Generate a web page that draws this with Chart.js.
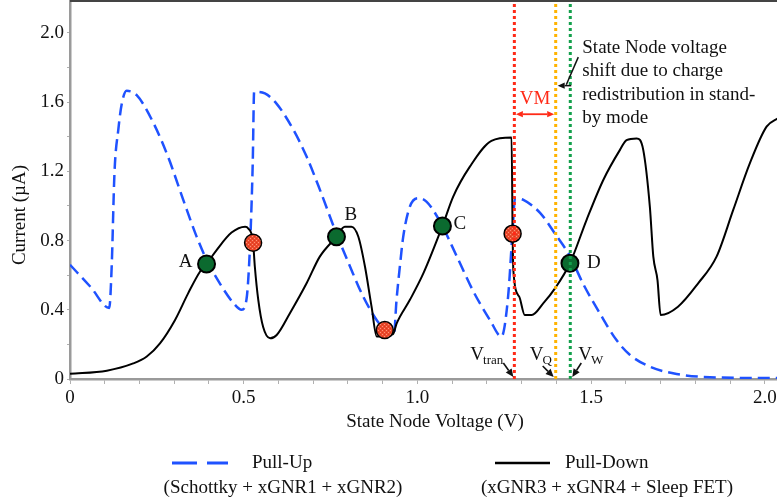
<!DOCTYPE html>
<html><head><meta charset="utf-8">
<script src="https://cdn.jsdelivr.net/npm/chart.js@4/dist/chart.umd.min.js"></script>
<style>html,body{margin:0;padding:0;background:#fff;}#wrap{width:777px;height:504px;}</style>
</head><body><div id="wrap"><canvas id="c" width="777" height="504"></canvas></div>
<script>
// ---- data ----
const pullUpV = [0.0,0.06,0.113,0.12,0.128,0.139,0.149,0.163,0.192,0.24,0.283,0.326,0.365,0.393,0.432,0.47,0.494,0.508,0.518,0.526,0.53,0.561,0.595,0.643,0.681,0.72,0.763,0.806,0.844,0.883,0.91,0.932,0.94,0.95,0.959,0.978,1.002,1.026,1.065,1.113,1.16,1.209,1.242,1.261,1.274,1.281,1.305,1.353,1.396,1.439,1.477,1.525,1.573,1.612,1.669,1.746,1.842,2.04];
const pullUpI = [0.66,0.53,0.41,0.65,1.19,1.44,1.59,1.665,1.64,1.48,1.28,1.035,0.82,0.69,0.55,0.44,0.40,0.46,0.765,1.25,1.66,1.65,1.59,1.44,1.285,1.09,0.86,0.65,0.476,0.34,0.28,0.25,0.46,0.66,0.82,0.995,1.045,1.025,0.91,0.71,0.51,0.34,0.245,0.476,0.86,1.045,1.035,0.96,0.84,0.71,0.55,0.38,0.225,0.139,0.071,0.029,0.01,0.005];
const pullDownV = [0.0,0.106,0.182,0.221,0.259,0.302,0.34,0.374,0.393,0.422,0.465,0.504,0.513,0.527,0.532,0.542,0.556,0.576,0.595,0.633,0.681,0.719,0.767,0.791,0.81,0.83,0.849,0.868,0.883,0.93,0.94,0.978,1.017,1.072,1.103,1.151,1.213,1.271,1.274,1.276,1.293,1.309,1.329,1.362,1.396,1.439,1.487,1.535,1.583,1.602,1.631,1.65,1.669,1.679,1.691,1.70,1.75,1.808,1.861,1.909,1.957,2.005,2.04];
const pullDownI = [0.03,0.048,0.09,0.13,0.206,0.34,0.495,0.62,0.665,0.745,0.846,0.88,0.87,0.79,0.65,0.456,0.30,0.235,0.254,0.38,0.553,0.707,0.822,0.88,0.88,0.822,0.65,0.418,0.245,0.26,0.32,0.456,0.61,0.884,1.054,1.227,1.376,1.395,0.84,0.63,0.476,0.37,0.37,0.437,0.524,0.669,0.92,1.15,1.324,1.38,1.39,1.324,0.996,0.707,0.572,0.37,0.418,0.553,0.707,0.977,1.247,1.458,1.51];
const stableV = [0.393,0.767,1.072,1.439];
const stableI = [0.665,0.822,0.884,0.669];
const stableNames = ['A','B','C','D'];
const unstableV = [0.527,0.906,1.274];
const unstableI = [0.787,0.283,0.84];
const vTran = 1.279, vQ = 1.398, vW = 1.440;
const xMinorTicks = [0,0.1,0.2,0.3,0.4,0.5,0.6,0.7,0.8,0.9,1.0,1.1,1.2,1.3,1.4,1.5,1.6,1.7,1.8,1.9,2.0];
const xMajorTicks = [0,0.5,1.0,1.5,2.0];
const xTickLabels = ['0','0.5','1.0','1.5','2.0'];
const yMinorTicks = [0,0.2,0.4,0.6,0.8,1.0,1.2,1.4,1.6,1.8,2.0];
const yMajorTicks = [0,0.4,0.8,1.2,1.6,2.0];
const yTickLabels = ['0','0.4','0.8','1.2','1.6','2.0'];
const X_MAX = 2.035, Y_MAX = 2.19;
const seriesNames = ['Pull-Up','Pull-Down'];
const seriesSubs = ['(Schottky + xGNR1 + xGNR2)','(xGNR3 + xGNR4 + Sleep FET)'];
const xTitle = 'State Node Voltage (V)';
const yTitle = 'Current (\u00b5A)';
const noteLines = ['State Node voltage','shift due to charge','redistribution in stand-','by mode'];

// ---- styles ----
const SERIF = '"Liberation Serif","DejaVu Serif",serif';
const BLUE = '#1f52ff';
const canvas = document.getElementById('c');
const ctx0 = canvas.getContext('2d');
function hatch(){
  const c=document.createElement('canvas'); c.width=c.height=4;
  const g=c.getContext('2d');
  g.fillStyle='#ec4a2c'; g.fillRect(0,0,4,4);
  g.fillStyle='#ff9278'; g.fillRect(0,0,1,1); g.fillRect(2,2,1,1);
  g.fillStyle='#d63a20'; g.fillRect(2,0,1,1); g.fillRect(0,2,1,1);
  return ctx0.createPattern(c,'repeat');
}
const pts = (xs,ys)=>xs.map((v,i)=>({x:v,y:ys[i]}));
const vline = v=>[{x:v,y:0},{x:v,y:Y_MAX}];
function lab(v,majors,labels){ for(let i=0;i<majors.length;i++){ if(Math.abs(v-majors[i])<1e-6) return labels[i]; } return ''; }
function zeroPad(s){
  s.paddingTop=0; s.paddingBottom=0; s.paddingLeft=0; s.paddingRight=0;
}

function arrow(ctx,x1,y1,x2,y2,color,head,w){
  ctx.save(); ctx.strokeStyle=color; ctx.fillStyle=color; ctx.lineWidth=w||1.5;
  const a=Math.atan2(y2-y1,x2-x1);
  const bx=x2-head*Math.cos(a), by=y2-head*Math.sin(a);
  ctx.beginPath(); ctx.moveTo(x1,y1); ctx.lineTo(bx,by); ctx.stroke();
  ctx.beginPath(); ctx.moveTo(x2,y2);
  ctx.lineTo(bx+head*0.45*Math.sin(a), by-head*0.45*Math.cos(a));
  ctx.lineTo(bx-head*0.45*Math.sin(a), by+head*0.45*Math.cos(a));
  ctx.closePath(); ctx.fill(); ctx.restore();
}
function vlab(ctx,x,y,main,sub){
  ctx.font='19px '+SERIF; ctx.textAlign='left'; ctx.textBaseline='alphabetic';
  ctx.fillText(main,x,y);
  const w=ctx.measureText(main).width;
  ctx.font='13px '+SERIF; ctx.fillText(sub,x+w-1,y+4);
}

const deco = {
  id:'deco',
  afterDatasetsDraw(chart){
    const ctx=chart.ctx, xs=chart.scales.x, ys=chart.scales.y;
    const X=v=>xs.getPixelForValue(v), Y=v=>ys.getPixelForValue(v);
    ctx.save();
    ctx.fillStyle='#111'; ctx.font='19px '+SERIF; ctx.textBaseline='middle';
    const offs=[[-14,-2,'right'],[8,-22,'left'],[11,-2,'left'],[17,0,'left']];
    stableNames.forEach((n,i)=>{ ctx.textAlign=offs[i][2]; ctx.fillText(n,X(stableV[i])+offs[i][0],Y(stableI[i])+offs[i][1]); });
    const xt=X(vTran), xq=X(vQ), xw=X(vW);
    ctx.fillStyle='#ff2a17'; ctx.textAlign='center'; ctx.font='19px '+SERIF;
    ctx.fillText('VM',(xt+xq)/2,Y(1.615));
    arrow(ctx,(xt+xq)/2,Y(1.53),xt+1.5,Y(1.53),'#ff2a17',7,1.8);
    arrow(ctx,(xt+xq)/2,Y(1.53),xq-1.5,Y(1.53),'#ff2a17',7,1.8);
    ctx.fillStyle='#111'; ctx.textAlign='left'; ctx.font='19px '+SERIF;
    noteLines.forEach((t,i)=>ctx.fillText(t,xw+12,Y(1.915)+i*23.5));
    ctx.strokeStyle='#111'; ctx.lineWidth=1.5;
    ctx.beginPath(); ctx.moveTo(xw+8,Y(1.86)); ctx.lineTo(xw-4,Y(1.70)); ctx.stroke();
    arrow(ctx,xw+1,Y(1.695),xq+2,Y(1.695),'#111',7,1.5);
    ctx.fillStyle='#111';
    const yb=Y(0)-19;
    vlab(ctx,xt-44,yb,'V','tran');
    vlab(ctx,xq-26,yb,'V','Q');
    vlab(ctx,xw+8,yb,'V','W');
    arrow(ctx,xt-11,Y(0)-16,xt-1,Y(0)-2,'#111',8,1.6);
    arrow(ctx,xq-13,Y(0)-13,xq-2,Y(0)-2,'#111',8,1.6);
    arrow(ctx,xw+11,Y(0)-16,xw+2,Y(0)-2,'#111',8,1.6);
    ctx.restore();
  },
  afterDraw(chart){
    const ctx=chart.ctx, ca=chart.chartArea;
    ctx.save();
    ctx.fillStyle='#444'; ctx.fillRect(ca.left,0,ca.right-ca.left,2);
    ctx.fillStyle='#111'; ctx.font='19px '+SERIF; ctx.textBaseline='middle'; ctx.textAlign='center';
    ctx.fillText(xTitle,435,422);
    ctx.save(); ctx.translate(20,215); ctx.rotate(-Math.PI/2); ctx.fillText(yTitle,0,0); ctx.restore();
    ctx.strokeStyle=BLUE; ctx.lineWidth=3;
    ctx.beginPath(); ctx.moveTo(172,463); ctx.lineTo(197,463); ctx.moveTo(207,463); ctx.lineTo(228,463); ctx.stroke();
    ctx.strokeStyle='#000'; ctx.lineWidth=2.5;
    ctx.beginPath(); ctx.moveTo(495,463); ctx.lineTo(550,463); ctx.stroke();
    ctx.textAlign='left';
    ctx.fillText(seriesNames[0],252,463);
    ctx.fillText(seriesNames[1],565,463);
    ctx.textAlign='center';
    ctx.fillText(seriesSubs[0],283,488);
    ctx.fillText(seriesSubs[1],607,488);
    ctx.restore();
  }
};

new Chart(canvas,{
  type:'line',
  data:{datasets:[
    {data:vline(vTran),borderColor:'#ff2a17',borderWidth:3,borderDash:[3,3],pointRadius:0,order:0},
    {data:vline(vQ),borderColor:'#ffb300',borderWidth:3,borderDash:[3,3],pointRadius:0,order:0},
    {data:vline(vW),borderColor:'#13a04c',borderWidth:3,borderDash:[3,3],pointRadius:0,order:0},
    {data:pts(stableV,stableI),showLine:false,pointRadius:8.5,pointBackgroundColor:'#0b6a2f',pointBorderColor:'#000',pointBorderWidth:2,order:1},
    {data:pts(unstableV,unstableI),showLine:false,pointRadius:8.5,pointBackgroundColor:hatch(),pointBorderColor:'#000',pointBorderWidth:1.5,order:1},
    {label:seriesNames[1],data:pts(pullDownV,pullDownI),borderColor:'#000',borderWidth:2,pointRadius:0,cubicInterpolationMode:'monotone',order:2},
    {label:seriesNames[0],data:pts(pullUpV,pullUpI),borderColor:BLUE,borderWidth:2.5,borderDash:[12,6],pointRadius:0,cubicInterpolationMode:'monotone',order:3}
  ]},
  options:{
    responsive:false,animation:false,devicePixelRatio:1,events:[],
    layout:{autoPadding:false,padding:{left:0,right:0,top:0,bottom:0}},
    plugins:{legend:{display:false},tooltip:{enabled:false}},
    scales:{
      x:{type:'linear',min:0,max:X_MAX,
        afterBuildTicks:s=>{s.ticks=xMinorTicks.map(v=>({value:v}));},
        afterFit:s=>{s.height=125; zeroPad(s);},
        ticks:{autoSkip:false,maxRotation:0,padding:3,color:'#111',font:{family:SERIF,size:19},callback:v=>lab(v,xMajorTicks,xTickLabels)},
        grid:{drawOnChartArea:false,drawTicks:true,tickLength:5,color:'#b0b0b0',lineWidth:1},
        border:{display:true,color:'#9a9a9a',width:2.5}},
      y:{type:'linear',min:0,max:Y_MAX,
        afterBuildTicks:s=>{s.ticks=yMinorTicks.map(v=>({value:v}));},
        afterFit:s=>{s.width=70; zeroPad(s);},
        ticks:{autoSkip:false,padding:3,color:'#111',font:{family:SERIF,size:19},callback:v=>lab(v,yMajorTicks,yTickLabels)},
        grid:{drawOnChartArea:false,drawTicks:true,tickLength:3,color:'#b0b0b0',lineWidth:1},
        border:{display:true,color:'#9a9a9a',width:2.5}}
    }
  },
  plugins:[deco]
});
</script></body></html>
